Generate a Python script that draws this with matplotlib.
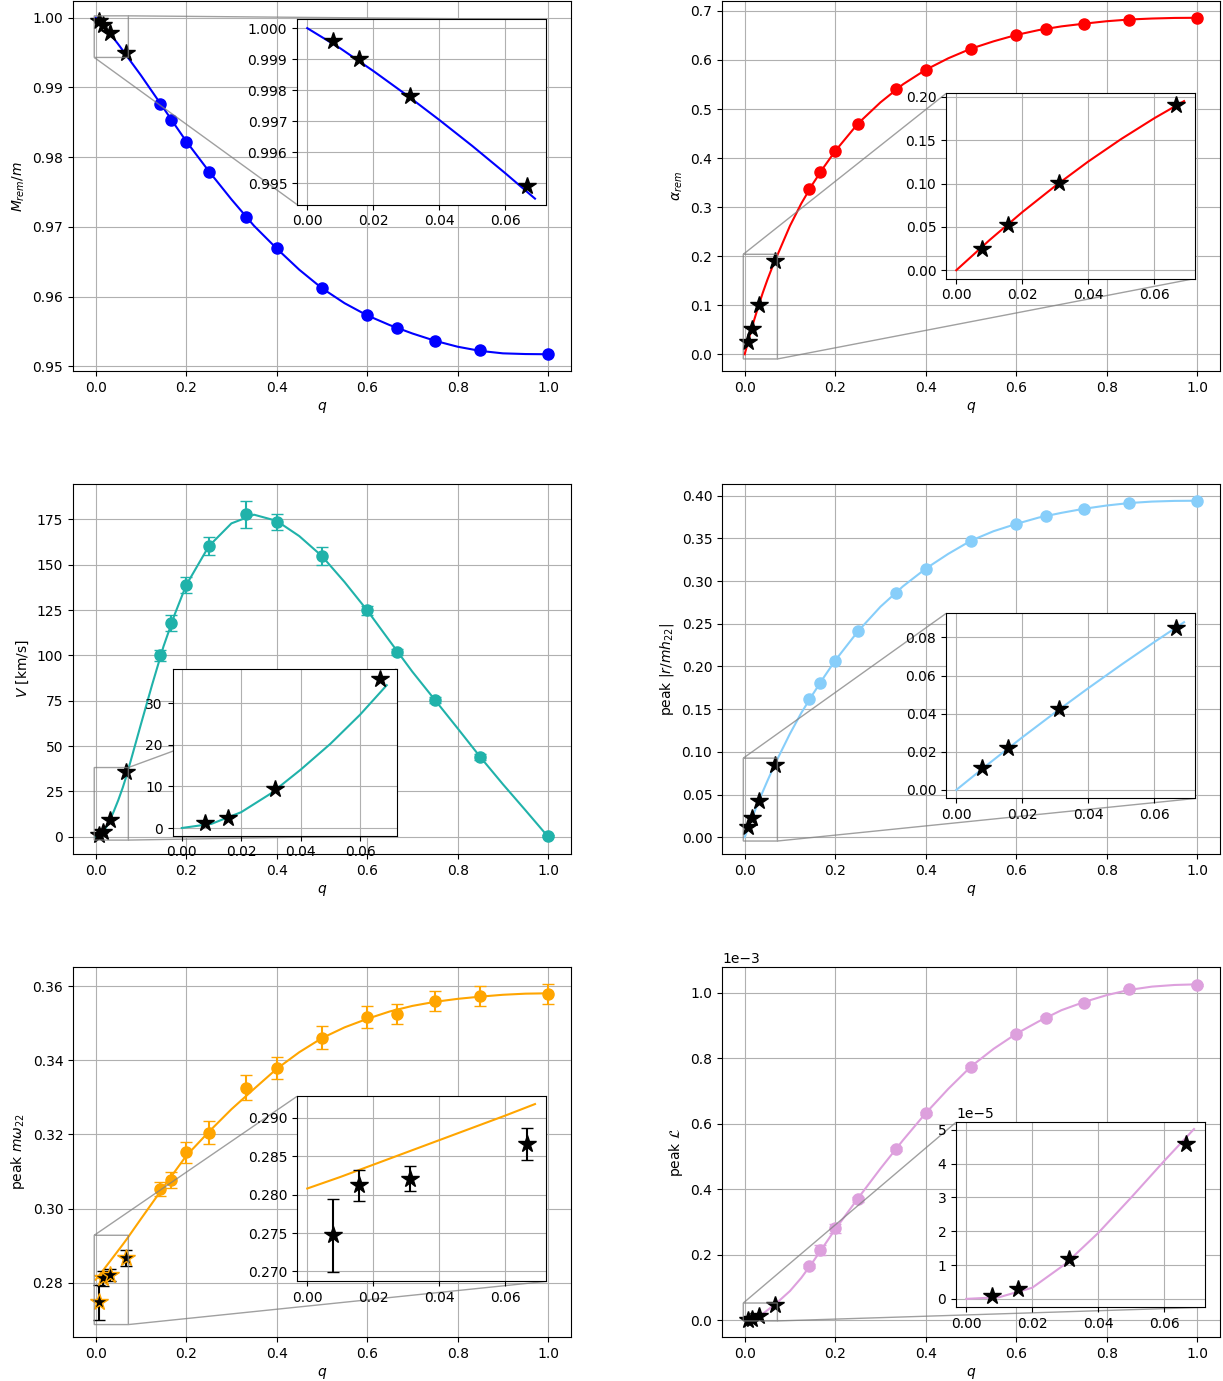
import matplotlib
matplotlib.use('Agg')
import matplotlib.pyplot as plt
import numpy as np

# mass ratios: small-q runs (stars) and the other runs (circles)
q_star = [1/128, 1/64, 1/32, 1/15]
q_circ = [1/7, 1/6, 0.2, 0.25, 1/3, 0.4, 0.5, 0.6, 2/3, 0.75, 0.85, 1.0]

# fit curves
q_fit = [0, 0.01, 0.02, 0.03, 0.04, 0.05, 0.06, 0.069, 0.1, 0.125, 0.15, 0.175, 0.2,
         0.25, 0.3, 0.35, 0.4, 0.45, 0.5, 0.55, 0.6, 0.65, 0.7, 0.75, 0.8, 0.85, 0.9, 0.95, 1.0]
n_small = 8  # fit points shown in the insets (q <= 0.069)

# remnant mass
mrem_star = [0.9996, 0.9990, 0.9978, 0.9949]
mrem_circ = [0.9877, 0.98539, 0.98224, 0.97794, 0.97135, 0.9669, 0.96117, 0.9573,
             0.95544, 0.95358, 0.9523, 0.95172]
mrem_fit = [1.0000, 0.99935, 0.99862, 0.99785, 0.99704, 0.99620, 0.99532, 0.99450, 0.99175,
            0.98940, 0.98705, 0.98465, 0.98230, 0.97800, 0.97395, 0.97015, 0.96690, 0.96385,
            0.96120, 0.95905, 0.95730, 0.95590, 0.95470, 0.95365, 0.95280, 0.95220, 0.95185,
            0.95175, 0.95172]

# remnant spin
arem_star = [0.024, 0.052, 0.101, 0.190]
arem_circ = [0.336, 0.371, 0.415, 0.470, 0.540, 0.580, 0.623, 0.650, 0.664, 0.674, 0.682, 0.686]
arem_fit = [0, 0.0345, 0.0670, 0.0972, 0.1254, 0.1514, 0.1753, 0.1950, 0.2617, 0.3072, 0.3467,
            0.3817, 0.4142, 0.4700, 0.5135, 0.5505, 0.5800, 0.6035, 0.6230, 0.6380, 0.6510,
            0.6610, 0.6685, 0.6740, 0.6790, 0.6825, 0.6845, 0.6857, 0.6860]

# kick velocity [km/s]
kick_star = [1.1, 2.4, 9.3, 35.7]
kick_circ = [100.2, 117.8, 138.7, 160.2, 177.8, 173.4, 154.6, 124.9, 101.8, 75.4, 44.0, 0.3]
kick_err = [3.0, 4.5, 4.5, 5.0, 7.5, 4.5, 5.0, 2.5, 1.5, 1.5, 1.5, 0.5]
kick_fit = [0, 1.0, 3.8, 8.3, 14.0, 20.2, 27.2, 34.3, 62.0, 84.0, 105.0, 122.8, 138.7, 160.2,
            172.8, 177.6, 174.2, 165.8, 154.8, 140.5, 124.9, 107.9, 91.0, 75.4, 59.8, 44.0,
            29.0, 14.6, 0.0]

# peak strain amplitude
h22_star = [0.0115, 0.022, 0.0425, 0.085]
h22_circ = [0.1614, 0.181, 0.207, 0.241, 0.2865, 0.3146, 0.3474, 0.367, 0.3766, 0.3848,
            0.3918, 0.394]
h22_fit = [0, 0.0140, 0.0276, 0.0407, 0.0534, 0.0657, 0.0776, 0.0880, 0.1212, 0.1455, 0.1670,
           0.1874, 0.2070, 0.2410, 0.2700, 0.2940, 0.3146, 0.3320, 0.3474, 0.3585, 0.3670,
           0.3745, 0.3800, 0.3848, 0.3886, 0.3915, 0.3932, 0.3940, 0.3942]

# peak frequency
w22_star = [0.2747, 0.2812, 0.2821, 0.2866]
w22_star_err = [0.0048, 0.0020, 0.0016, 0.0021]
w22_circ = [0.3052, 0.3077, 0.3152, 0.3205, 0.3326, 0.3380, 0.3461, 0.3517, 0.3524, 0.3560,
            0.3574, 0.3580]
w22_err = [0.0019, 0.0021, 0.0028, 0.0032, 0.0034, 0.0030, 0.0031, 0.0030, 0.0027, 0.0028,
           0.0027, 0.0027]
w22_fit = [0.2808, 0.2823, 0.2839, 0.2855, 0.2871, 0.2887, 0.2903, 0.2918, 0.2972, 0.3015,
           0.3058, 0.3100, 0.3142, 0.3207, 0.3268, 0.3323, 0.3377, 0.3422, 0.3460, 0.3489,
           0.3512, 0.3532, 0.3547, 0.3558, 0.3566, 0.3572, 0.3577, 0.3580, 0.3581]

# peak luminosity (in units of 1e-3)
lum_star = [0.0009, 0.0030, 0.0117, 0.0457]
lum_circ = [0.165, 0.214, 0.280, 0.369, 0.522, 0.631, 0.774, 0.874, 0.923, 0.969, 1.011, 1.024]
lum_err = [0.005, 0.014, 0.013, 0.008, 0.006, 0.005, 0.005, 0.004, 0.004, 0.004, 0.003, 0.003]
lum_fit = [0, 0.0005, 0.0033, 0.0103, 0.0195, 0.0300, 0.0408, 0.0502, 0.0888, 0.1288, 0.1763,
           0.2265, 0.2770, 0.3710, 0.4625, 0.5495, 0.6315, 0.7060, 0.7740, 0.8280, 0.8740,
           0.9120, 0.9460, 0.9710, 0.9920, 1.0080, 1.0180, 1.0230, 1.0250]
lum_scale = 1e-3

fig = plt.figure(figsize=(12.23, 13.81), dpi=100)

left_col, right_col = 0.0597, 0.5904
rows = [0.7313, 0.3816, 0.0319]
w, h = 0.407, 0.268

panels = [
    # position, colour, ylabel, star, circ, circ err, star err, fit, inset box, inset ylim, scale
    ((left_col, rows[0]), 'blue', r'$M_{rem}/m$', mrem_star, mrem_circ, None, None, mrem_fit,
     [0.45, 0.45, 0.5, 0.5], (0.99431, 1.00028), 1),
    ((right_col, rows[0]), 'red', r'$\alpha_{rem}$', arem_star, arem_circ, None, None, arem_fit,
     [0.45, 0.25, 0.5, 0.5], (-0.0096, 0.2038), 1),
    ((left_col, rows[1]), 'lightseagreen', r'$V$ [km/s]', kick_star, kick_circ, kick_err, None,
     kick_fit, [0.2, 0.05, 0.45, 0.45], (-1.8, 38.2), 1),
    ((right_col, rows[1]), 'lightskyblue', r'peak $|r/mh_{22}|$', h22_star, h22_circ, None, None,
     h22_fit, [0.45, 0.15, 0.5, 0.5], (-0.0045, 0.0926), 1),
    ((left_col, rows[2]), 'orange', r'peak $m\omega_{22}$', w22_star, w22_circ, w22_err,
     w22_star_err, w22_fit, [0.45, 0.15, 0.5, 0.5], (0.2687, 0.2928), 1),
    ((right_col, rows[2]), 'plum', r'peak $\mathcal{L}$', lum_star, lum_circ, lum_err, None,
     lum_fit, [0.47, 0.08, 0.5, 0.5], (-0.25e-5, 5.22e-5), lum_scale),
]

for pos, col, ylab, ystar, ycirc, ecirc, estar, yfit, box, ylim_in, sc in panels:
    ax = fig.add_axes([pos[0], pos[1], w, h])
    ystar = np.array(ystar) * sc
    ycirc = np.array(ycirc) * sc
    yfit = np.array(yfit) * sc

    ax.plot(q_fit, yfit, color=col, lw=1.5, zorder=2)
    if ecirc is None:
        ax.plot(q_circ, ycirc, 'o', color=col, ms=8, zorder=3)
    else:
        ax.errorbar(q_circ, ycirc, yerr=np.array(ecirc) * sc, fmt='o', color=col, ms=8,
                    capsize=4, zorder=3)
    if estar is None:
        ax.plot(q_star, ystar, '*', color='black', ms=13, zorder=4)
    else:
        ax.errorbar(q_star, ystar, yerr=np.array(estar) * sc, fmt='*', color='black',
                    mec=col, ms=13, capsize=4, zorder=4)
    ax.set_xlabel('$q$')
    ax.set_ylabel(ylab)
    ax.grid(True)

    axins = ax.inset_axes(box)
    axins.plot(q_fit[:n_small], yfit[:n_small], color=col, lw=1.5)
    if estar is None:
        axins.plot(q_star, ystar, '*', color='black', ms=13)
    else:
        axins.errorbar(q_star, ystar, yerr=np.array(estar) * sc, fmt='*', color='black',
                       ms=13, capsize=4)
    axins.set_xlim(-0.0031, 0.0723)
    axins.set_ylim(*ylim_in)
    axins.set_xticks([0.0, 0.02, 0.04, 0.06])
    axins.grid(True)
    ax.indicate_inset_zoom(axins, edgecolor='0.5', alpha=0.75)

    if sc != 1:
        ax.ticklabel_format(axis='y', style='sci', scilimits=(0, 0))
        axins.ticklabel_format(axis='y', style='sci', scilimits=(0, 0))

plt.savefig('out.png', dpi=100)
